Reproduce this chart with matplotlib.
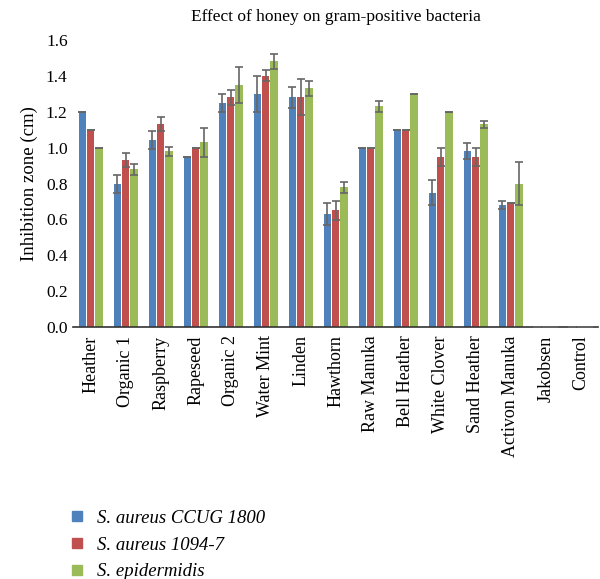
import numpy as np
import matplotlib.pyplot as plt

plt.rcParams['font.family'] = ['Liberation Serif', 'DejaVu Serif']

honeys = ['Heather', 'Organic 1', 'Raspberry', 'Rapeseed', 'Organic 2', 'Water Mint',
          'Linden', 'Hawthorn', 'Raw Manuka', 'Bell Heather', 'White Clover',
          'Sand Heather', 'Activon Manuka', 'Jakobsen', 'Control']

series = ['S. aureus CCUG 1800', 'S. aureus 1094-7', 'S. epidermidis']

aureus_ccug = [1.20, 0.80, 1.04, 0.95, 1.25, 1.30, 1.28, 0.63, 1.00, 1.10, 0.75, 0.98, 0.68, 0, 0]
aureus_ccug_err = [0, 0.05, 0.05, 0, 0.05, 0.10, 0.06, 0.06, 0, 0, 0.07, 0.045, 0.02, 0, 0]

aureus_1094 = [1.10, 0.93, 1.13, 1.00, 1.28, 1.40, 1.28, 0.65, 1.00, 1.10, 0.95, 0.95, 0.69, 0, 0]
aureus_1094_err = [0, 0.04, 0.04, 0, 0.04, 0.03, 0.10, 0.055, 0, 0, 0.05, 0.05, 0, 0, 0]

epidermidis = [1.00, 0.88, 0.98, 1.03, 1.35, 1.48, 1.33, 0.78, 1.23, 1.30, 1.20, 1.13, 0.80, 0, 0]
epidermidis_err = [0, 0.03, 0.025, 0.08, 0.10, 0.04, 0.04, 0.03, 0.03, 0, 0, 0.02, 0.12, 0, 0]

colors = ['#4F81BD', '#C0504D', '#9BBB59']

fig = plt.figure(figsize=(6, 5.79), dpi=100)
ax = fig.add_axes([0.122, 0.435, 0.875, 0.496])

x = np.arange(len(honeys))
width = 0.205
offsets = [-0.235, 0, 0.235]
vals = [aureus_ccug, aureus_1094, epidermidis]
errs = [aureus_ccug_err, aureus_1094_err, epidermidis_err]

handles = []
for i in range(3):
    ax.bar(x + offsets[i], vals[i], width, color=colors[i], label=series[i], zorder=2)
    ax.errorbar(x + offsets[i], vals[i], yerr=errs[i], fmt='none', ecolor='#666666',
                elinewidth=1.2, capsize=3, capthick=1.2, zorder=3)
    handles.append(plt.Line2D([], [], marker='s', linestyle='none', markersize=7,
                              color=colors[i], label=series[i]))

ax.set_xlim(-0.5, len(honeys) - 0.5)
ax.set_ylim(0, 1.6)
ticks = np.arange(0, 1.61, 0.2)
ax.set_yticks(ticks)
ax.set_yticklabels([f'{v:.1f}' for v in ticks], fontsize=12.5)
ax.set_xticks(x)
ax.set_xticklabels(honeys, rotation=90, fontsize=13)
ax.tick_params(axis='y', length=0, pad=4)
ax.tick_params(axis='x', length=0, pad=6)
for s in ['top', 'right', 'left']:
    ax.spines[s].set_visible(False)
ax.spines['bottom'].set_color('#333333')
ax.spines['bottom'].set_linewidth(1.2)

ax.set_ylabel('Inhibition zone (cm)', fontsize=13.5, labelpad=6)
ax.set_title('Effect of honey on gram-positive bacteria', fontsize=12.5, pad=14)

fig.legend(handles=handles, loc='upper left', bbox_to_anchor=(0.115, 0.12),
           frameon=False, handlelength=0.8, handletextpad=0.7, labelspacing=0.52,
           borderpad=0, borderaxespad=0, prop={'style': 'italic', 'size': 13.5})

fig.savefig('out.png', dpi=100)
